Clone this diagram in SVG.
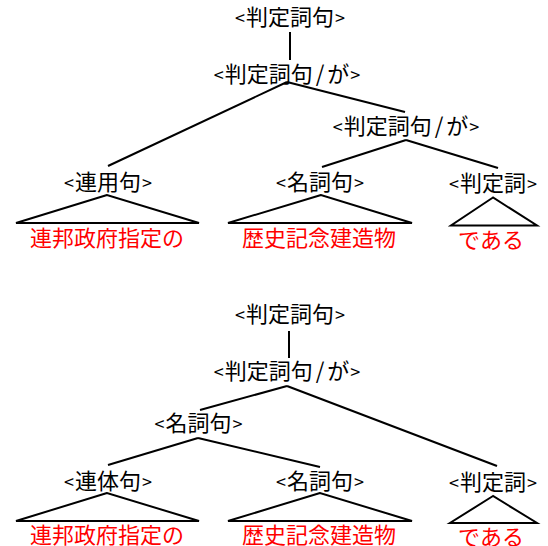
<svg xmlns="http://www.w3.org/2000/svg" width="548" height="546" viewBox="0 0 548 546">
<style>
text{font-family:"Noto Sans CJK JP","Noto Sans CJK SC",sans-serif;font-size:22px;text-anchor:middle;fill:#000}
text.w{fill:#ff0000}
tspan.b{font-size:18px}
line,polygon{stroke:#000;stroke-width:2;fill:none}
</style>
<rect width="548" height="546" fill="#fff"/>
<g id="connectors">
<line x1="290" y1="32" x2="290" y2="60"/>
<line x1="287" y1="82" x2="108" y2="166"/>
<line x1="287" y1="82" x2="405" y2="112"/>
<line x1="406" y1="140" x2="322" y2="167"/>
<line x1="406" y1="140" x2="498" y2="168"/>
<line x1="289" y1="331" x2="289" y2="358"/>
<line x1="287" y1="386" x2="200" y2="410"/>
<line x1="287" y1="386" x2="497" y2="466"/>
<line x1="198" y1="438" x2="108" y2="465"/>
<line x1="198" y1="438" x2="320" y2="467"/>
</g>
<g id="t1-root"><text x="290" y="25"><tspan class="b">&lt;</tspan><tspan dx="1">判定詞句</tspan><tspan class="b" dx="1">&gt;</tspan></text></g>
<g id="t1-ga1"><text x="287" y="81.5"><tspan class="b">&lt;</tspan><tspan dx="1">判定詞句</tspan><tspan dx="3">/</tspan><tspan dx="3">が</tspan><tspan class="b" dx="1">&gt;</tspan></text></g>
<g id="t1-ga2"><text x="406" y="133.5"><tspan class="b">&lt;</tspan><tspan dx="1">判定詞句</tspan><tspan dx="3">/</tspan><tspan dx="3">が</tspan><tspan class="b" dx="1">&gt;</tspan></text></g>
<g id="t1-renyo"><text x="108" y="189.5"><tspan class="b">&lt;</tspan><tspan dx="1">連用句</tspan><tspan class="b" dx="1">&gt;</tspan></text><polygon points="107,195 16,223 199,223"/><text class="w" x="107" y="245.5">連邦政府指定の</text></g>
<g id="t1-meishi"><text x="320" y="189.5"><tspan class="b">&lt;</tspan><tspan dx="1">名詞句</tspan><tspan class="b" dx="1">&gt;</tspan></text><polygon points="321,195 228,223 412,223"/><text class="w" x="319" y="245.5">歴史記念建造物</text></g>
<g id="t1-hantei"><text x="493" y="190.5"><tspan class="b">&lt;</tspan><tspan dx="1">判定詞</tspan><tspan class="b" dx="1">&gt;</tspan></text><polygon points="493,197.5 451,225.5 537,225.5"/><text class="w" x="491" y="248">である</text></g>
<g id="t2-root"><text x="290" y="321.5"><tspan class="b">&lt;</tspan><tspan dx="1">判定詞句</tspan><tspan class="b" dx="1">&gt;</tspan></text></g>
<g id="t2-ga"><text x="287" y="378.5"><tspan class="b">&lt;</tspan><tspan dx="1">判定詞句</tspan><tspan dx="3">/</tspan><tspan dx="3">が</tspan><tspan class="b" dx="1">&gt;</tspan></text></g>
<g id="t2-meishi-top"><text x="198.5" y="430.5"><tspan class="b">&lt;</tspan><tspan dx="1">名詞句</tspan><tspan class="b" dx="1">&gt;</tspan></text></g>
<g id="t2-rentai"><text x="108" y="488.5"><tspan class="b">&lt;</tspan><tspan dx="1">連体句</tspan><tspan class="b" dx="1">&gt;</tspan></text><polygon points="107,493 16,521 199,521"/><text class="w" x="107" y="543">連邦政府指定の</text></g>
<g id="t2-meishi"><text x="320" y="488.5"><tspan class="b">&lt;</tspan><tspan dx="1">名詞句</tspan><tspan class="b" dx="1">&gt;</tspan></text><polygon points="320,493 228,521 412,521"/><text class="w" x="319" y="543">歴史記念建造物</text></g>
<g id="t2-hantei"><text x="493" y="489.5"><tspan class="b">&lt;</tspan><tspan dx="1">判定詞</tspan><tspan class="b" dx="1">&gt;</tspan></text><polygon points="493,496 450,523 537,523"/><text class="w" x="491" y="545">である</text></g>
</svg>
